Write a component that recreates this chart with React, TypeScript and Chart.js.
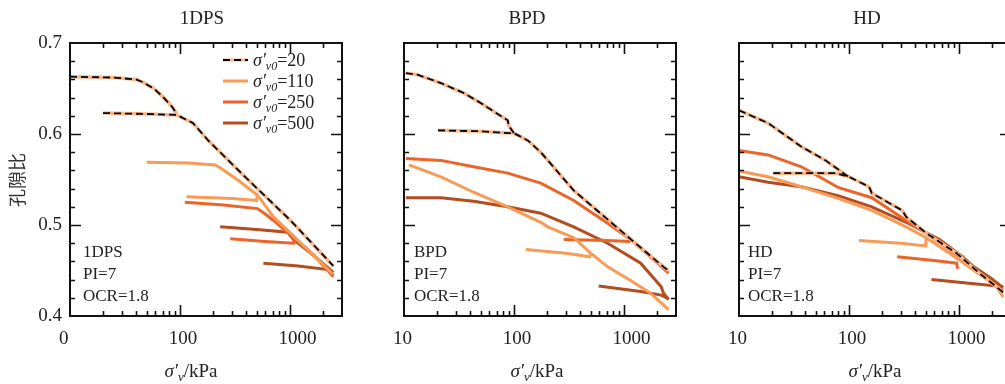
import React, { useEffect, useRef } from 'react';
import { Chart, registerables } from 'chart.js';

Chart.register(...registerables);

// ---------- axes ----------
const X_MIN = 10;
const X_MAX = 3000;
const Y_MIN = 0.4;
const Y_MAX = 0.7;
const X_LABEL_VALUES = [10, 100, 1000];
const Y_LABEL_VALUES = [0.4, 0.5, 0.6, 0.7];
const X_MAJOR_MARKS = [100, 1000];
const X_MINOR_MARKS = [20, 30, 40, 50, 60, 70, 80, 90, 200, 300, 400, 500, 600, 700, 800, 900, 2000];
const Y_MAJOR_MARKS = [0.5, 0.6];
const Y_MINOR_MARKS = [0.42, 0.44, 0.46, 0.48, 0.52, 0.54, 0.56, 0.58, 0.62, 0.64, 0.66, 0.68];

// ---------- series ----------
const SERIES_NAMES = ['20', '110', '250', '500'];
const SERIES_COLORS = ['#FBB688', '#F99A55', '#EC6428', '#B34C1E'];
const NOTE_LINES = ['PI=7', 'OCR=1.8'];
const PANEL_TITLES = ['1DPS', 'BPD', 'HD'];

// ---------- 1DPS data [σ'v (kPa), e] ----------
const DPS_20_A = [[10, 0.663], [25, 0.662], [40, 0.660], [46, 0.657], [58, 0.650], [70, 0.641], [85, 0.630], [94, 0.622]];
const DPS_20_B = [[20, 0.623], [50, 0.622], [94, 0.621], [132, 0.612], [181, 0.593], [400, 0.552], [1020, 0.505], [2500, 0.455]];
const DPS_110_A = [[50, 0.569], [120, 0.568], [210, 0.566], [233, 0.563], [350, 0.548], [508, 0.533], [713, 0.509], [1462, 0.473], [2480, 0.446]];
const DPS_110_B = [[115, 0.531], [300, 0.529], [500, 0.527], [508, 0.533]];
const DPS_250_A = [[111, 0.525], [250, 0.522], [508, 0.518], [600, 0.512], [713, 0.505], [1020, 0.489], [1660, 0.467], [2500, 0.443]];
const DPS_250_B = [[288, 0.485], [600, 0.482], [1089, 0.480], [1100, 0.487]];
const DPS_500_A = [[233, 0.498], [500, 0.495], [960, 0.492], [1090, 0.484], [1600, 0.468], [2500, 0.448]];
const DPS_500_B = [[577, 0.458], [1200, 0.455], [2233, 0.451], [2500, 0.445]];

// ---------- BPD data ----------
const BPD_20_A = [[10.4, 0.667], [13.4, 0.665], [21.7, 0.656], [35, 0.645], [50, 0.634], [88, 0.615], [90, 0.609], [100, 0.601]];
const BPD_20_B = [[20.4, 0.604], [50, 0.603], [88, 0.601], [100, 0.601], [134, 0.593], [176, 0.580], [351, 0.538], [1000, 0.491], [2310, 0.454], [2565, 0.450]];
const BPD_110_A = [[11.1, 0.566], [21.7, 0.553], [43, 0.536], [88, 0.520], [176, 0.503], [204, 0.498], [351, 0.486], [501, 0.469], [716, 0.454], [1158, 0.439], [1758, 0.425], [2565, 0.407]];
const BPD_110_B = [[129, 0.473], [300, 0.469], [490, 0.465], [501, 0.469]];
const BPD_250_A = [[10.4, 0.573], [21.7, 0.571], [43, 0.564], [88, 0.557], [176, 0.546], [351, 0.527], [716, 0.502], [1158, 0.484], [1758, 0.465], [2565, 0.447]];
const BPD_250_B = [[285, 0.484], [700, 0.483], [1158, 0.482]];
const BPD_500_A = [[10.4, 0.530], [21.7, 0.530], [43, 0.526], [88, 0.520], [176, 0.513], [351, 0.498], [716, 0.480], [1430, 0.458], [2200, 0.432], [2310, 0.425], [2565, 0.418]];
const BPD_500_B = [[593, 0.433], [1430, 0.427], [2200, 0.423], [2565, 0.419]];

// ---------- HD data ----------
const HD_20_A = [[10, 0.626], [18.4, 0.612], [37, 0.586], [61.5, 0.571], [94, 0.555], [100, 0.553]];
const HD_20_B = [[20.5, 0.557], [76, 0.557], [100, 0.553], [153, 0.542], [162, 0.535], [307, 0.516], [333, 0.509], [508, 0.491], [958, 0.469], [1550, 0.447], [2540, 0.426]];
const HD_110_A = [[10.2, 0.559], [18.4, 0.553], [37, 0.542], [81, 0.529], [162, 0.516], [333, 0.498], [508, 0.486], [827, 0.469], [1345, 0.451], [2230, 0.432], [2540, 0.421]];
const HD_110_B = [[124, 0.483], [300, 0.480], [500, 0.477], [508, 0.486]];
const HD_250_A = [[10, 0.582], [18.4, 0.577], [37, 0.564], [81, 0.541], [162, 0.530], [333, 0.505], [508, 0.491], [1020, 0.465], [1550, 0.447], [2540, 0.428]];
const HD_250_B = [[276, 0.465], [600, 0.461], [958, 0.458], [980, 0.452]];
const HD_500_A = [[10, 0.553], [18.4, 0.547], [37, 0.542], [81, 0.532], [162, 0.520], [333, 0.503], [670, 0.484], [1090, 0.465], [1345, 0.455], [2000, 0.441], [2540, 0.431]];
const HD_500_B = [[566, 0.440], [1800, 0.434], [2540, 0.432]];

const PANEL_DATA = [
  [[DPS_20_A, DPS_20_B], [DPS_110_A, DPS_110_B], [DPS_250_A, DPS_250_B], [DPS_500_A, DPS_500_B]],
  [[BPD_20_A, BPD_20_B], [BPD_110_A, BPD_110_B], [BPD_250_A, BPD_250_B], [BPD_500_A, BPD_500_B]],
  [[HD_20_A, HD_20_B], [HD_110_A, HD_110_B], [HD_250_A, HD_250_B], [HD_500_A, HD_500_B]],
];

// ---------- layout ----------
const CANVAS_W = 1020;
const CANVAS_H = 384;
const PLOT_W = 272;
const PLOT_TOP = 43;
const PLOT_BOTTOM = 316;
const PANEL_LAYOUT = [
  { left: 70, titleX: 202, axisTitleX: 191, noteX: 83, showY: true, firstLabel: '0' },
  { left: 404, titleX: 527, axisTitleX: 537, noteX: 414, showY: false, firstLabel: '10' },
  { left: 739, titleX: 867, axisTitleX: 875, noteX: 748, showY: false, firstLabel: '10' },
];

const SERIF = '"Liberation Serif", "Times New Roman", serif';
const TEXT_COLOR = '#222';

type Part = { t: string; italic?: boolean; size: number; dy?: number };

function drawRich(ctx: CanvasRenderingContext2D, parts: Part[], x: number, y: number, align: 'left' | 'center') {
  const fontOf = (p: Part) => `${p.italic ? 'italic ' : ''}${p.size}px ${SERIF}`;
  let total = 0;
  for (const p of parts) {
    ctx.font = fontOf(p);
    total += ctx.measureText(p.t).width;
  }
  let cx = align === 'center' ? x - total / 2 : x;
  ctx.textAlign = 'left';
  ctx.textBaseline = 'alphabetic';
  for (const p of parts) {
    ctx.font = fontOf(p);
    ctx.fillText(p.t, cx, y + (p.dy || 0));
    cx += ctx.measureText(p.t).width;
  }
}

function makeDecorPlugin(panelIndex: number) {
  const cfg = PANEL_LAYOUT[panelIndex];
  return {
    id: 'decor' + panelIndex,
    afterDraw(chart: any) {
      const { ctx, chartArea: a, scales } = chart;
      const xs = scales.x;
      const ys = scales.y;
      ctx.save();
      ctx.fillStyle = TEXT_COLOR;
      ctx.strokeStyle = '#111';
      // inward ticks
      ctx.lineWidth = 1.6;
      ctx.beginPath();
      const xt = (v: number, len: number) => {
        const px = Math.round(xs.getPixelForValue(v)) + 0.5;
        ctx.moveTo(px, a.bottom); ctx.lineTo(px, a.bottom - len);
        ctx.moveTo(px, a.top); ctx.lineTo(px, a.top + len);
      };
      const yt = (v: number, len: number) => {
        const py = Math.round(ys.getPixelForValue(v)) + 0.5;
        ctx.moveTo(a.left, py); ctx.lineTo(a.left + len, py);
        ctx.moveTo(a.right, py); ctx.lineTo(a.right - len, py);
      };
      X_MINOR_MARKS.forEach((v) => xt(v, 5));
      X_MAJOR_MARKS.forEach((v) => xt(v, 11));
      Y_MINOR_MARKS.forEach((v) => yt(v, 5));
      Y_MAJOR_MARKS.forEach((v) => yt(v, 11));
      ctx.stroke();
      // frame
      ctx.lineWidth = 2;
      ctx.strokeRect(a.left, a.top, a.right - a.left, a.bottom - a.top);

      // panel title
      ctx.font = `19px ${SERIF}`;
      ctx.textAlign = 'center';
      ctx.textBaseline = 'middle';
      ctx.fillText(PANEL_TITLES[panelIndex], cfg.titleX, 19);

      // notes inside
      ctx.font = `17px ${SERIF}`;
      ctx.textAlign = 'left';
      const notes = [PANEL_TITLES[panelIndex], ...NOTE_LINES];
      notes.forEach((t, i) => ctx.fillText(t, cfg.noteX, 253 + i * 22));

      // x axis title σ'v/kPa
      drawRich(ctx, [
        { t: 'σ′', italic: true, size: 19 },
        { t: 'v', italic: true, size: 13, dy: 4 },
        { t: '/kPa', size: 19 },
      ], cfg.axisTitleX, 377, 'center');

      if (cfg.showY) {
        // y axis title
        ctx.save();
        ctx.translate(17, 180);
        ctx.rotate(-Math.PI / 2);
        ctx.font = '18px "Noto Sans CJK SC", sans-serif';
        ctx.textAlign = 'center';
        ctx.textBaseline = 'middle';
        ctx.fillStyle = '#333';
        ctx.fillText('孔隙比', 0, 0);
        ctx.restore();

        // legend
        SERIES_NAMES.forEach((name, i) => {
          const cy = 60 + i * 21;
          ctx.lineWidth = 3;
          ctx.strokeStyle = SERIES_COLORS[i];
          ctx.setLineDash([]);
          ctx.beginPath();
          ctx.moveTo(223, cy); ctx.lineTo(248, cy);
          ctx.stroke();
          if (i === 0) {
            ctx.lineWidth = 1.8;
            ctx.strokeStyle = '#000';
            ctx.setLineDash([7, 4]);
            ctx.beginPath();
            ctx.moveTo(223, cy); ctx.lineTo(248, cy);
            ctx.stroke();
            ctx.setLineDash([]);
          }
          ctx.fillStyle = TEXT_COLOR;
          drawRich(ctx, [
            { t: 'σ′', italic: true, size: 18 },
            { t: 'v0', italic: true, size: 12, dy: 4 },
            { t: '=' + name, size: 18 },
          ], 253, cy + 6, 'left');
        });
      }
      ctx.restore();
    },
  };
}

function toPoints(arr: number[][]) {
  return arr.map(([x, y]) => ({ x, y }));
}

function buildDatasets(panelIndex: number) {
  const groups = PANEL_DATA[panelIndex];
  const ds: any[] = [];
  // dashed overlay for σ'v0 = 20 (drawn on top: first datasets)
  groups[0].forEach((curve) => {
    ds.push({
      data: toPoints(curve),
      borderColor: '#000',
      borderWidth: 1.8,
      borderDash: [7, 4],
      pointRadius: 0,
      fill: false,
    });
  });
  groups.forEach((group, si) => {
    group.forEach((curve) => {
      ds.push({
        data: toPoints(curve),
        borderColor: SERIES_COLORS[si],
        borderWidth: si === 0 ? 3.5 : 3,
        pointRadius: 0,
        fill: false,
      });
    });
  });
  return ds;
}

function Panel({ index }: { index: number }) {
  const ref = useRef<HTMLCanvasElement | null>(null);
  useEffect(() => {
    if (!ref.current) return;
    const cfg = PANEL_LAYOUT[index];
    const right = cfg.left + PLOT_W;
    const tickFont = { family: SERIF, size: 19 };
    const chart = new Chart(ref.current, {
      type: 'line',
      data: { datasets: buildDatasets(index) },
      options: {
        animation: false,
        responsive: false,
        events: [],
        layout: { padding: { left: 0, right: CANVAS_W - right, top: PLOT_TOP, bottom: 0 } },
        plugins: { legend: { display: false }, tooltip: { enabled: false }, title: { display: false } },
        elements: { line: { tension: 0 }, point: { radius: 0 } },
        scales: {
          x: {
            type: 'logarithmic',
            min: X_MIN,
            max: X_MAX,
            grid: { display: false, drawTicks: false },
            border: { display: false },
            ticks: {
              font: tickFont,
              color: TEXT_COLOR,
              padding: 12,
              align: 'start',
              labelOffset: -11,
              maxRotation: 0,
              minRotation: 0,
              autoSkip: false,
              callback: (v: any) => (Number(v) === 10 ? cfg.firstLabel : String(v)),
            },
            afterBuildTicks: (s: any) => {
              s.ticks = X_LABEL_VALUES.map((v) => ({ value: v }));
            },
            afterFit: (s: any) => {
              s.height = CANVAS_H - PLOT_BOTTOM;
            },
          },
          y: {
            type: 'linear',
            min: Y_MIN,
            max: Y_MAX,
            grid: { display: false, drawTicks: false },
            border: { display: false },
            ticks: {
              display: cfg.showY,
              font: tickFont,
              color: TEXT_COLOR,
              padding: 8,
              callback: (v: any) => Number(v).toFixed(1),
            },
            afterBuildTicks: (s: any) => {
              s.ticks = Y_LABEL_VALUES.map((v) => ({ value: v }));
            },
            afterFit: (s: any) => {
              s.width = cfg.left;
            },
          },
        },
      } as any,
      plugins: [makeDecorPlugin(index)],
    });
    return () => chart.destroy();
  }, [index]);
  return (
    <canvas
      ref={ref}
      width={CANVAS_W}
      height={CANVAS_H}
      style={{ position: 'absolute', left: 0, top: 0, width: CANVAS_W, height: CANVAS_H, display: 'block' }}
    />
  );
}

export default function App() {
  return (
    <div
      style={{
        position: 'fixed',
        left: 0,
        top: 0,
        width: 1005,
        height: 384,
        overflow: 'hidden',
        background: '#fff',
      }}
    >
      {PANEL_LAYOUT.map((_, i) => (
        <Panel key={i} index={i} />
      ))}
    </div>
  );
}
